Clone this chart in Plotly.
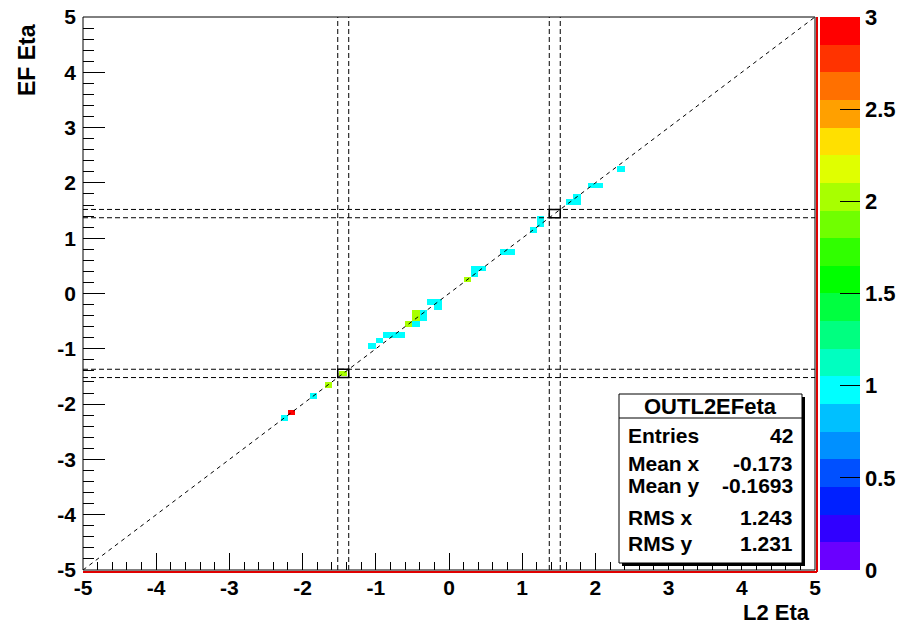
import plotly.graph_objects as go

# ---- data: occupied 2D bins (bin centres) and their counts ----
cell_x = [-2.25, -2.15, -1.85, -1.65, -1.45, -1.05, -0.95, -0.85, -0.75, -0.65,
          -0.55, -0.45, -0.45, -0.45, -0.35, -0.35, -0.25, -0.15, -0.15,
          0.25, 0.35, 0.45, 0.35, 0.75, 0.85, 1.15, 1.25, 1.25,
          1.65, 1.75, 1.75, 1.95, 2.05, 2.35]
cell_y = [-2.25, -2.15, -1.85, -1.65, -1.45, -0.95, -0.85, -0.75, -0.75, -0.75,
          -0.55, -0.35, -0.45, -0.55, -0.35, -0.45, -0.15, -0.15, -0.25,
          0.25, 0.45, 0.45, 0.35, 0.75, 0.75, 1.15, 1.35, 1.25,
          1.65, 1.65, 1.75, 1.95, 1.95, 2.25]
cell_n = [1, 3, 1, 2, 2, 1, 1, 1, 1, 1,
          2, 2, 2, 1, 1, 1, 1, 1, 1,
          2, 1, 1, 1, 1, 1, 1, 1, 1,
          1, 1, 1, 1, 1, 1]

crack_edges = [-1.52, -1.37, 1.37, 1.52]
axis_ticks = [-5, -4, -3, -2, -1, 0, 1, 2, 3, 4, 5]
axis_ticktext = ["-5", "-4", "-3", "-2", "-1", "0", "1", "2", "3", "4", "5"]
cbar_ticks = [0, 0.5, 1, 1.5, 2, 2.5, 3]
cbar_ticktext = ["0", "0.5", "1", "1.5", "2", "2.5", "3"]

stats_title = "OUTL2EFeta"
stats_labels = ["Entries", "Mean x", "Mean y", "RMS x", "RMS y"]
stats_values = ["42", "-0.173", "-0.1693", "1.243", "1.231"]

# ROOT-like palette, 20 bands, bottom -> top
palette = ["#6A00FF", "#3000FF", "#0020FF", "#0050FF", "#0090FF", "#00C0FF",
           "#00FFFF", "#00FFC0", "#00FF80", "#00FF40", "#00FF00", "#30FF00",
           "#70FF00", "#A8FF00", "#E0FF00", "#FFE000", "#FFA000", "#FF7000",
           "#FF3300", "#FF0000"]

nb = 100
z = [[None] * nb for _ in range(nb)]
for xv, yv, n in zip(cell_x, cell_y, cell_n):
    ix = int(round((xv + 5) / 0.1 - 0.5))
    iy = int(round((yv + 5) / 0.1 - 0.5))
    z[iy][ix] = n
centers = [-4.95 + 0.1 * i for i in range(nb)]

cs = []
for i, c in enumerate(palette):
    cs.append([i / 20, c])
    cs.append([(i + 1) / 20, c])

FONT = "Liberation Sans"

L, R, T, B = 83, 815, 17, 570
W, H = 906, 628


def px(x):
    return (x - L) / (R - L)


def py(y):
    return (B - y) / (B - T)


fig = go.Figure()
fig.add_trace(go.Heatmap(
    x=centers, y=centers, z=z, zmin=0, zmax=3, colorscale=cs,
    hoverongaps=False,
    colorbar=dict(
        x=px(820), xanchor="left", xref="paper", xpad=0, ypad=0,
        y=0.5, yanchor="middle", len=1.0, lenmode="fraction",
        thickness=40, thicknessmode="pixels", outlinewidth=0,
        tickmode="array", tickvals=cbar_ticks, ticktext=cbar_ticktext,
        ticks="inside", ticklen=20, tickcolor="black", tickwidth=1,
        tickfont=dict(family=FONT, size=22, color="black", weight="bold"),
    ),
))

shapes = []
dash_style = dict(color="black", width=1, dash="5px,3px")
for e in crack_edges:
    shapes.append(dict(type="line", xref="x", yref="y", x0=e, x1=e, y0=-5, y1=5, line=dash_style))
    shapes.append(dict(type="line", xref="x", yref="y", y0=e, y1=e, x0=-5, x1=5, line=dash_style))
# diagonal
shapes.append(dict(type="line", xref="x", yref="y", x0=-5, y0=-5, x1=5, y1=5,
                   line=dict(color="black", width=1, dash="4px,4px")))
# crack boxes
for a, b in [(crack_edges[0], crack_edges[1]), (crack_edges[2], crack_edges[3])]:
    shapes.append(dict(type="rect", xref="x", yref="y", x0=a, x1=b, y0=a, y1=b,
                       line=dict(color="black", width=1.5)))
# red lines at frame bottom/right
shapes.append(dict(type="line", xref="paper", yref="paper", x0=px(83), x1=px(817),
                   y0=py(572), y1=py(572), line=dict(color="#E00000", width=2)))
shapes.append(dict(type="line", xref="paper", yref="paper", x0=px(817), x1=px(817),
                   y0=py(17), y1=py(572), line=dict(color="#E00000", width=2)))
# frame
shapes.append(dict(type="rect", xref="paper", yref="paper", x0=0, x1=1, y0=0, y1=1,
                   line=dict(color="black", width=1)))
# stats box shadow + box
bx0, bx1, by0, by1 = 619, 802, 394, 563
shapes.append(dict(type="rect", xref="paper", yref="paper", x0=px(bx0 + 3), x1=px(bx1 + 3),
                   y0=py(by1 + 3), y1=py(by0 + 3), fillcolor="black", line=dict(width=0)))
shapes.append(dict(type="rect", xref="paper", yref="paper", x0=px(bx0), x1=px(bx1),
                   y0=py(by1), y1=py(by0), fillcolor="white", line=dict(color="black", width=1)))
shapes.append(dict(type="line", xref="paper", yref="paper", x0=px(bx0), x1=px(bx1),
                   y0=py(418), y1=py(418), line=dict(color="black", width=1)))

annotations = [
    dict(text=stats_title, xref="paper", yref="paper", x=px((bx0 + bx1) / 2), y=py(406),
         xanchor="center", yanchor="middle", showarrow=False,
         font=dict(family=FONT, size=22, color="black", weight="bold")),
]
row_y = [435, 463, 485, 517, 543]
for lab, val, ry in zip(stats_labels, stats_values, row_y):
    annotations.append(dict(text=lab, xref="paper", yref="paper", x=px(626), y=py(ry),
                            xanchor="left", yanchor="middle", showarrow=False,
                            font=dict(family=FONT, size=21, color="black", weight="bold")))
    annotations.append(dict(text=val, xref="paper", yref="paper", x=px(795), y=py(ry),
                            xanchor="right", yanchor="middle", showarrow=False,
                            font=dict(family=FONT, size=21, color="black", weight="bold")))
annotations.append(dict(text="L2 Eta", xref="paper", yref="paper", x=px(812), y=py(612),
                        xanchor="right", yanchor="middle", showarrow=False,
                        font=dict(family=FONT, size=22, color="black", weight="bold")))
annotations.append(dict(text="EF Eta", xref="paper", yref="paper", x=px(27), y=py(60),
                        xanchor="center", yanchor="middle", showarrow=False, textangle=-90,
                        font=dict(family=FONT, size=23, color="black", weight="bold")))

tickfont = dict(family=FONT, size=21, color="black", weight="bold")
fig.update_layout(
    width=W, height=H,
    margin=dict(l=L, r=W - R, t=T, b=H - B, pad=0, autoexpand=False),
    paper_bgcolor="white", plot_bgcolor="white",
    shapes=shapes, annotations=annotations,
    showlegend=False,
    xaxis=dict(range=[-5, 5], showgrid=False, zeroline=False,
               tickmode="array", tickvals=axis_ticks, ticktext=axis_ticktext,
               ticks="inside", ticklen=17, tickcolor="black", tickwidth=1,
               ticklabelstandoff=3,
               minor=dict(dtick=0.2, tick0=0, ticks="inside", ticklen=8, tickcolor="black",
                          showgrid=False),
               tickfont=tickfont, showline=False),
    yaxis=dict(range=[-5, 5], showgrid=False, zeroline=False,
               tickmode="array", tickvals=axis_ticks, ticktext=axis_ticktext,
               ticks="inside", ticklen=22, tickcolor="black", tickwidth=1,
               ticklabelstandoff=6,
               minor=dict(dtick=0.2, tick0=0, ticks="inside", ticklen=11, tickcolor="black",
                          showgrid=False),
               tickfont=tickfont, showline=False),
)

fig.write_html("out.html", config={"displayModeBar": False},
               post_script="document.body.style.margin='0';document.body.style.padding='0';")
